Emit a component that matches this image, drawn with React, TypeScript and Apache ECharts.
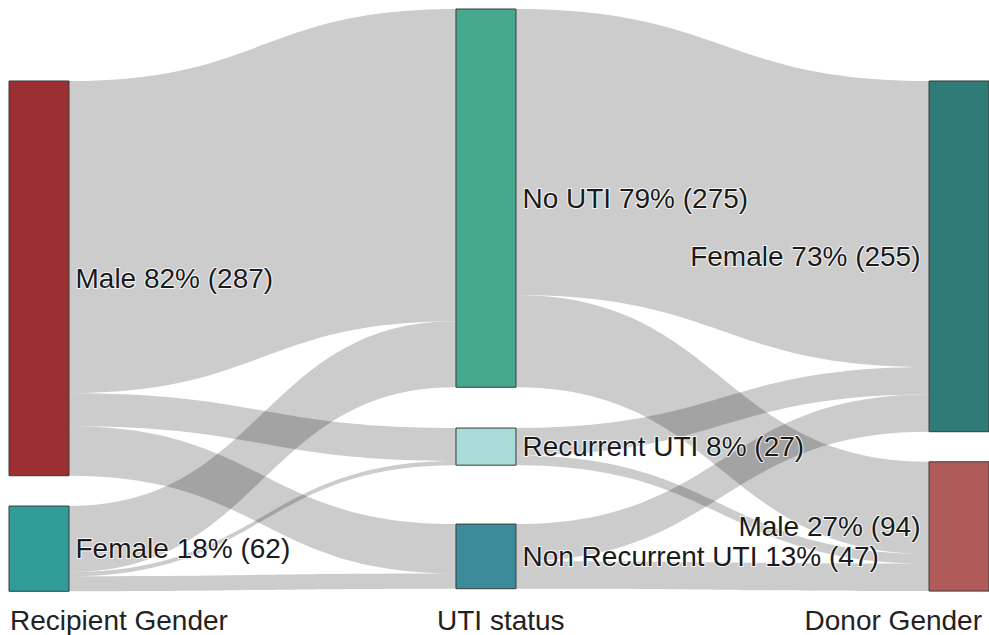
import React, { useEffect, useRef } from "react";
import * as echarts from "echarts";

// ---- Data ----
const recipientNames = ["Male", "Female"];
const utiNames = ["No UTI", "Recurrent UTI", "Non Recurrent UTI"];
const donorNames = ["Female", "Male"];

// recipient gender -> UTI status (rows: recipient, cols: UTI status)
const recipientToUti = [
  [227, 24, 36],
  [48, 3, 11],
];
// UTI status -> donor gender (rows: UTI status, cols: donor)
const utiToDonor = [
  [208, 67],
  [20, 7],
  [27, 20],
];

const columnTitles = ["Recipient Gender", "UTI status", "Donor Gender"];

const recipientColors = ["#9b2f31", "#2f9c9a"];
const utiColors = ["#46a98f", "#a9dbd8", "#3b8b9b"];
const donorColors = ["#2f7b78", "#b05a5a"];

// ---- Layout (fractions of the sankey layout area) ----
const recipientPos = [
  [0, 0.1237],
  [0, 0.854],
];
const utiPos = [
  [0.4561, 0],
  [0.4561, 0.72],
  [0.4561, 0.885],
];
const donorPos = [
  [0.9388, 0.1237],
  [0.9388, 0.778],
];

const FONT = "'Liberation Sans', Arial, Helvetica, sans-serif";
const FS = 28;

export default function App() {
  const ref = useRef<HTMLDivElement>(null);

  useEffect(() => {
    document.body.style.margin = "0";
    if (!ref.current) return;
    const chart = echarts.init(ref.current, undefined, { renderer: "svg" });

    const sum = (a: number[]) => a.reduce((s, v) => s + v, 0);
    const recipientTotals = recipientToUti.map((r) => sum(r));
    const total = sum(recipientTotals);
    const utiTotals = utiNames.map((_, j) => sum(recipientToUti.map((r) => r[j])));
    const donorTotals = donorNames.map((_, k) => sum(utiToDonor.map((r) => r[k])));

    const labelText = (name: string, v: number) =>
      `${name} ${Math.round((v / total) * 100)}% (${v})`;

    const nodes: any[] = [];
    const mkLabel = (pos: string) => ({
      show: true,
      position: pos,
      distance: 6,
      fontSize: FS,
      fontFamily: FONT,
      color: "#1a1a1a",
      textBorderColor: "rgba(255,255,255,0.85)",
      textBorderWidth: 2,
    });
    recipientNames.forEach((n, i) =>
      nodes.push({
        name: "R_" + n,
        value: recipientTotals[i],
        localX: recipientPos[i][0],
        localY: recipientPos[i][1],
        itemStyle: { color: recipientColors[i] },
        label: { ...mkLabel("right"), formatter: labelText(n, recipientTotals[i]) },
      })
    );
    utiNames.forEach((n, j) =>
      nodes.push({
        name: "U_" + n,
        value: utiTotals[j],
        localX: utiPos[j][0],
        localY: utiPos[j][1],
        itemStyle: { color: utiColors[j] },
        label: { ...mkLabel("right"), formatter: labelText(n, utiTotals[j]) },
      })
    );
    donorNames.forEach((n, k) =>
      nodes.push({
        name: "D_" + n,
        value: donorTotals[k],
        localX: donorPos[k][0],
        localY: donorPos[k][1],
        itemStyle: { color: donorColors[k] },
        label: { ...mkLabel("left"), distance: 8, formatter: labelText(n, donorTotals[k]) },
      })
    );

    const links: any[] = [];
    recipientToUti.forEach((row, i) =>
      row.forEach((v, j) =>
        links.push({ source: "R_" + recipientNames[i], target: "U_" + utiNames[j], value: v })
      )
    );
    utiToDonor.forEach((row, j) =>
      row.forEach((v, k) =>
        links.push({ source: "U_" + utiNames[j], target: "D_" + donorNames[k], value: v })
      )
    );

    chart.setOption({
      animation: false,
      backgroundColor: "#ffffff",
      graphic: [
        {
          type: "text",
          x: 10,
          y: 620,
          style: {
            text: columnTitles[0],
            fontSize: FS,
            fontFamily: FONT,
            fill: "#222",
            align: "left",
            verticalAlign: "middle",
          },
        },
        {
          type: "text",
          x: 437,
          y: 620,
          style: {
            text: columnTitles[1],
            fontSize: FS,
            fontFamily: FONT,
            fill: "#222",
            align: "left",
            verticalAlign: "middle",
          },
        },
        {
          type: "text",
          x: 982,
          y: 620,
          style: {
            text: columnTitles[2],
            fontSize: FS,
            fontFamily: FONT,
            fill: "#222",
            align: "right",
            verticalAlign: "middle",
          },
        },
      ],
      series: [
        {
          type: "sankey",
          left: 9,
          top: 9,
          right: 0,
          bottom: 44,
          nodeWidth: 60,
          nodeGap: 51,
          layoutIterations: 0,
          draggable: false,
          emphasis: { disabled: true },
          itemStyle: { borderColor: "#3a3a3a", borderWidth: 1 },
          lineStyle: { color: "#000", opacity: 0.2, curveness: 0.5 },
          data: nodes,
          links,
        },
      ],
    });

    return () => chart.dispose();
  }, []);

  return (
    <div
      ref={ref}
      style={{ position: "fixed", left: 0, top: 0, width: 989, height: 635 }}
    />
  );
}
